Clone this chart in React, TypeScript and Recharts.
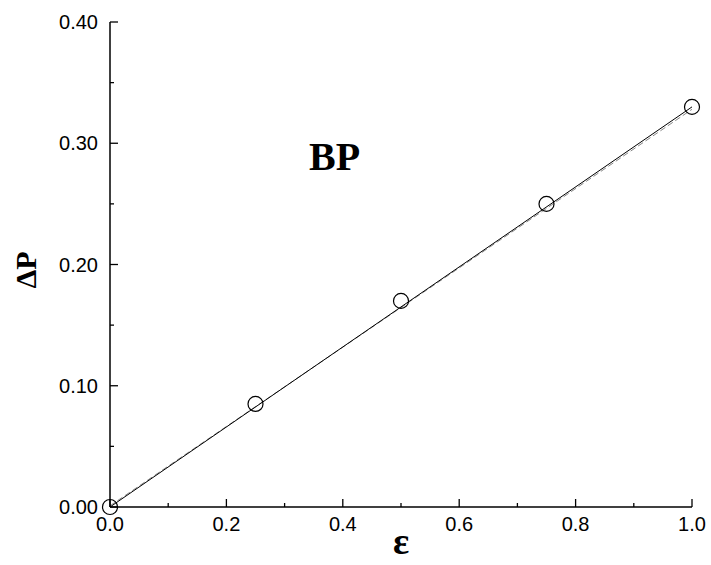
import { ComposedChart, Line, Scatter, XAxis, YAxis } from 'recharts'

const epsPoints = [0, 0.25, 0.5, 0.75, 1.0]
const dpPoints = [0, 0.085, 0.17, 0.25, 0.33]
const fitX = [0, 1.0]
const fitSolid = [0, 0.33]
const fitDashed = [0.001, 0.328]
const xTicks = [0, 0.1, 0.2, 0.3, 0.4, 0.5, 0.6, 0.7, 0.8, 0.9, 1.0]
const yTicks = [0, 0.05, 0.1, 0.15, 0.2, 0.25, 0.3, 0.35, 0.4]

const points = epsPoints.map((x, i) => ({ x, y: dpPoints[i] }))
const solid = fitX.map((x, i) => ({ x, y: fitSolid[i] }))
const dashed = fitX.map((x, i) => ({ x, y: fitDashed[i] }))

// layout of the plot box
const W = 711
const H = 565
const M = { top: 22, right: 19, bottom: 0, left: 0 }
const Y_W = 110
const X_H = 58
const LEFT = M.left + Y_W
const RIGHT = W - M.right
const TOP = M.top
const BOTTOM = H - M.bottom - X_H

const font = '"Liberation Sans", Arial, sans-serif'
const serif = '"Liberation Serif", "Times New Roman", serif'

const isMajorX = (v: number) => Math.round(v * 10) % 2 === 0
const isMajorY = (v: number) => Math.round(v * 100) % 10 === 0

function BottomTick({ x, payload }: any) {
  const major = isMajorX(payload.value)
  return (
    <g>
      <line x1={x} x2={x} y1={BOTTOM} y2={BOTTOM - (major ? 8 : 4)} stroke="#000" strokeWidth={1.3} />
      {major && (
        <text x={x} y={BOTTOM + 24} textAnchor="middle" fontSize={20} fontFamily={font} fill="#000">
          {payload.value.toFixed(1)}
        </text>
      )}
    </g>
  )
}

function TopTick({ x, payload }: any) {
  const major = isMajorX(payload.value)
  return <line x1={x} x2={x} y1={TOP} y2={TOP + (major ? 8 : 4)} stroke="#000" strokeWidth={1.3} />
}

function LeftTick({ y, payload }: any) {
  const major = isMajorY(payload.value)
  return (
    <g>
      <line x1={LEFT} x2={LEFT + (major ? 8 : 4)} y1={y} y2={y} stroke="#000" strokeWidth={1.3} />
      {major && (
        <text x={LEFT - 12} y={y + 7} textAnchor="end" fontSize={20} fontFamily={font} fill="#000">
          {payload.value.toFixed(2)}
        </text>
      )}
    </g>
  )
}

function RightTick({ y, payload }: any) {
  const major = isMajorY(payload.value)
  return <line x1={RIGHT} x2={RIGHT - (major ? 8 : 4)} y1={y} y2={y} stroke="#000" strokeWidth={1.3} />
}

const ring = (p: any) => <circle cx={p.cx} cy={p.cy} r={7.5} fill="none" stroke="#000" strokeWidth={1.2} />

export default function App() {
  return (
    <div style={{ position: 'absolute', left: 0, top: 0, width: W, height: H, background: '#fff' }}>
      <ComposedChart width={W} height={H} margin={M}>
        <XAxis xAxisId="b" type="number" dataKey="x" domain={[0, 1]} ticks={xTicks} interval={0}
          height={X_H} tickLine={false} tick={<BottomTick />} stroke="#000" strokeWidth={1.5} />
        <XAxis xAxisId="t" orientation="top" type="number" dataKey="x" domain={[0, 1]} ticks={xTicks} interval={0}
          height={0} tickLine={false} tick={<TopTick />} stroke="#000" strokeWidth={1.5} />
        <YAxis yAxisId="l" type="number" dataKey="y" domain={[0, 0.4]} ticks={yTicks} interval={0}
          width={Y_W} tickLine={false} tick={<LeftTick />} stroke="#000" strokeWidth={1.5} />
        <YAxis yAxisId="r" orientation="right" type="number" dataKey="y" domain={[0, 0.4]} ticks={yTicks} interval={0}
          width={0} tickLine={false} tick={<RightTick />} stroke="#000" strokeWidth={1.5} />
        <Line xAxisId="b" yAxisId="l" data={dashed} dataKey="y" type="linear" stroke="#888" strokeWidth={1}
          strokeDasharray="6 3" dot={false} isAnimationActive={false} />
        <Line xAxisId="b" yAxisId="l" data={solid} dataKey="y" type="linear" stroke="#000" strokeWidth={1}
          dot={false} isAnimationActive={false} />
        <Scatter xAxisId="b" yAxisId="l" data={points} dataKey="y" shape={ring} isAnimationActive={false} />
      </ComposedChart>
      <div style={{ position: 'absolute', left: 309, top: 135, fontFamily: serif, fontWeight: 'bold', fontSize: 40, lineHeight: '44px' }}>
        BP
      </div>
      <div style={{ position: 'absolute', left: 26, top: 270, width: 0, height: 0 }}>
        <div style={{ position: 'absolute', transform: 'translate(-50%, -50%) rotate(-90deg)', fontFamily: serif, fontWeight: 'bold', fontSize: 30, lineHeight: '30px', whiteSpace: 'nowrap' }}>
          ΔP
        </div>
      </div>
      <div style={{ position: 'absolute', left: 401, top: 541, width: 0, height: 0 }}>
        <div style={{ position: 'absolute', transform: 'translate(-50%, -50%)', fontFamily: serif, fontWeight: 'bold', fontSize: 38, lineHeight: '30px' }}>
          ε
        </div>
      </div>
    </div>
  )
}
